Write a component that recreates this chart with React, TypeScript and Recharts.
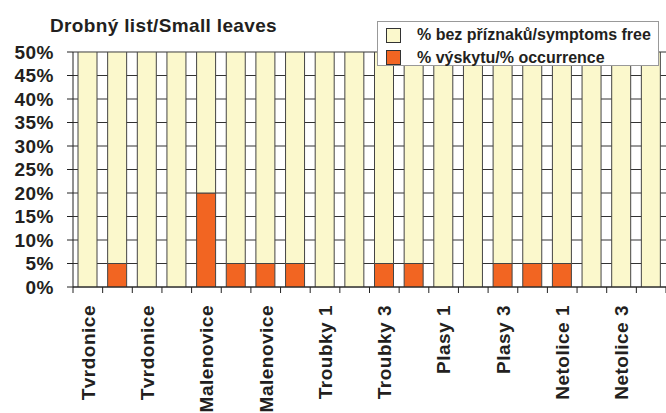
import React from "react";
import { BarChart, Bar, XAxis, YAxis, CartesianGrid, Legend } from "recharts";

const categories = [
  "Tvrdonice", "Tvrdonice 2", "Tvrdonice", "Tvrdonice 4",
  "Malenovice", "Malenovice 2", "Malenovice", "Malenovice 4",
  "Troubky 1", "Troubky 2", "Troubky 3", "Troubky 4",
  "Plasy 1", "Plasy 2", "Plasy 3", "Plasy 4",
  "Netolice 1", "Netolice 2", "Netolice 3", "Netolice 4",
];
const occurrence = [0, 5, 0, 0, 20, 5, 5, 5, 0, 0, 5, 5, 0, 0, 5, 5, 5, 0, 0, 0];
const symptomsFree = occurrence.map((v) => 100 - v);
const yTicks = [0, 5, 10, 15, 20, 25, 30, 35, 40, 45, 50];
const seriesNames = ["% bez příznaků/symptoms free", "% výskytu/% occurrence"];

const W = 666;
const H = 413;
const LEFT = 73;
const RIGHT = 0;
const TOP = 52;
const XH = 126;
const BAND = (W - LEFT - RIGHT) / categories.length;
const FONT = "'Liberation Sans', Arial, Helvetica, sans-serif";
const CREAM = "#FBF8CC";
const ORANGE = "#F26522";

const data = categories.map((c, i) => ({
  key: `c${i}`,
  label: c,
  occ: occurrence[i],
  free: symptomsFree[i],
}));

const XTick = (props: any) => {
  const { x, y, index } = props;
  const show = index % 2 === 0;
  return (
    <g>
      <line x1={x - BAND / 2} x2={x - BAND / 2} y1={y} y2={y + 6} stroke="#222" strokeWidth={1} />
      {index === categories.length - 1 && (
        <line x1={x + BAND / 2} x2={x + BAND / 2} y1={y} y2={y + 6} stroke="#222" strokeWidth={1} />
      )}
      {show && (
        <text
          x={x}
          y={y + 18}
          transform={`rotate(-90, ${x}, ${y + 18})`}
          textAnchor="end"
          dy="0.36em"
          fontFamily={FONT}
          fontWeight="bold"
          fontSize={19}
          letterSpacing={0.5}
          fill="#231f20"
        >
          {categories[index]}
        </text>
      )}
    </g>
  );
};

const LegendBox = () => {
  const colors = [CREAM, ORANGE];
  return (
    <div
      style={{
        width: 280,
        height: 43,
        border: "1px solid #999",
        background: "#fff",
        boxSizing: "content-box",
        fontFamily: FONT,
        fontWeight: "bold",
        fontSize: 16,
        color: "#231f20",
        position: "relative",
      }}
    >
      {seriesNames.map((n, i) => (
        <div key={n} style={{ position: "absolute", left: 8, top: 5 + i * 22.5, height: 16, display: "flex", alignItems: "center" }}>
          <div style={{ width: 13, height: 13, border: "1px solid #333", background: colors[i] }} />
          <span style={{ marginLeft: 16, lineHeight: "16px", whiteSpace: "nowrap" }}>{n}</span>
        </div>
      ))}
    </div>
  );
};

export default function App() {
  return (
    <div style={{ position: "absolute", left: 0, top: 0, width: W, height: H, background: "#fff" }}>
      <div
        style={{
          position: "absolute",
          left: 50,
          top: 16,
          fontFamily: FONT,
          fontWeight: "bold",
          fontSize: 19,
          letterSpacing: 0.35,
          lineHeight: 1,
          color: "#231f20",
          whiteSpace: "nowrap",
          zIndex: 2,
        }}
      >
        Drobný list/Small leaves
      </div>
      <BarChart
        width={W}
        height={H}
        data={data}
        margin={{ top: TOP, right: RIGHT, left: 0, bottom: 0 }}
        barSize={19}
      >
        <CartesianGrid vertical={false} stroke="#333" strokeWidth={1} />
        <XAxis
          dataKey="key"
          interval={0}
          tickLine={false}
          tickSize={0}
          tickMargin={0}
          height={XH}
          tick={<XTick />}
          axisLine={{ stroke: "#222", strokeWidth: 1 }}
        />
        <YAxis
          width={LEFT}
          domain={[0, 50]}
          ticks={yTicks}
          allowDataOverflow
          interval={0}
          tickFormatter={(v: number) => `${v}%`}
          tickSize={6}
          tickMargin={13}
          axisLine={{ stroke: "#222", strokeWidth: 1 }}
          tickLine={{ stroke: "#222", strokeWidth: 1 }}
          tick={{ fontFamily: FONT, fontWeight: "bold", fontSize: 19, letterSpacing: 0.5, fill: "#231f20" }}
        />
        <Legend
          layout="horizontal"
          verticalAlign="middle"
          align="center"
          content={<LegendBox />}
          wrapperStyle={{ position: "absolute", left: 377, top: 21, width: 282, height: 45 }}
        />
        <Bar dataKey="occ" stackId="a" name={seriesNames[1]} fill={ORANGE} stroke="#444" strokeWidth={1} isAnimationActive={false} />
        <Bar dataKey="free" stackId="a" name={seriesNames[0]} fill={CREAM} stroke="#444" strokeWidth={1} isAnimationActive={false} />
      </BarChart>
    </div>
  );
}
